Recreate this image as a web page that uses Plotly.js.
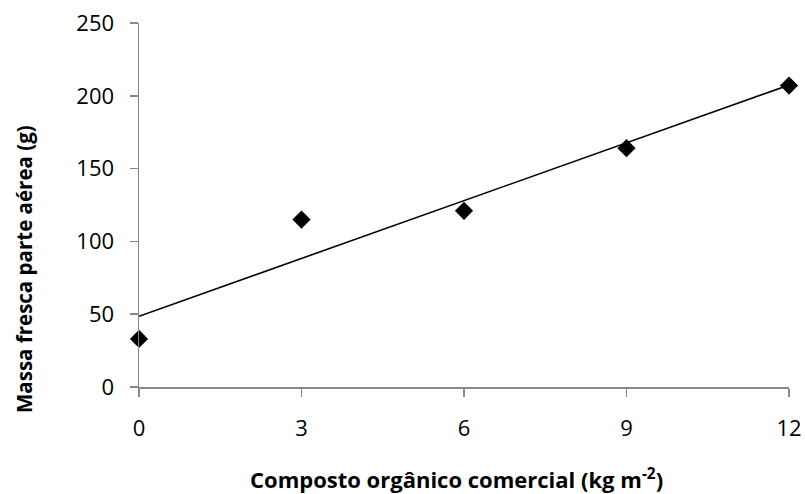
<!DOCTYPE html>
<html>
<head>
<meta charset="utf-8">
<script src="https://cdn.plot.ly/plotly-3.0.1.min.js"></script>
<style>html,body{margin:0;padding:0;background:#fff;}#chart{width:805px;height:494px;}</style>
</head>
<body>
<div id="chart"></div>
<script>
const doses = [0, 3, 6, 9, 12];
const massa = [33, 115, 121, 164, 207];
const trendX = [0, 12];
const trendY = [48.6, 207.4];
const xTicks = [0, 3, 6, 9, 12];
const yTicks = [0, 50, 100, 150, 200, 250];
const xTitle = 'Composto orgânico comercial (kg m<sup>-2</sup>)';
const yTitle = 'Massa fresca parte aérea (g)';

const traces = [
  {x: trendX, y: trendY, mode: 'lines', line: {color: '#000', width: 1.6}, hoverinfo: 'skip', showlegend: false, cliponaxis: false},
  {x: doses, y: massa, mode: 'markers', marker: {symbol: 'diamond', size: 14, color: '#000'}, showlegend: false, cliponaxis: false}
];

const fam = '"Open Sans", Lato, sans-serif';
const tickFont = {family: fam, size: 22, color: '#000'};
const layout = {
  width: 805, height: 494,
  margin: {l: 139, r: 16, t: 23, b: 107},
  paper_bgcolor: '#fff', plot_bgcolor: '#fff',
  showlegend: false,
  xaxis: {
    range: [0, 12], tickvals: xTicks, ticktext: xTicks.map(String),
    showgrid: false, zeroline: false, showline: true, linecolor: '#898989', linewidth: 1.5,
    ticks: 'outside', ticklen: 8, tickcolor: '#898989', tickwidth: 1.5,
    tickfont: tickFont, ticklabelstandoff: 13
  },
  yaxis: {
    range: [0, 250], tickvals: yTicks, ticktext: yTicks.map(String),
    showgrid: false, zeroline: false, showline: true, linecolor: '#898989', linewidth: 1.5,
    ticks: 'outside', ticklen: 8, tickcolor: '#898989', tickwidth: 1.5,
    tickfont: tickFont, ticklabelstandoff: 11
  },
  annotations: [
    {text: xTitle, xref: 'paper', yref: 'paper', x: 0.4877, y: -0.2527, xanchor: 'center', yanchor: 'middle', showarrow: false,
     font: {family: fam, size: 22, color: '#000', weight: 'bold'}},
    {text: yTitle, xref: 'paper', yref: 'paper', x: -0.1777, y: 0.3255, xanchor: 'center', yanchor: 'middle', textangle: -90, showarrow: false,
     font: {family: fam, size: 20.5, color: '#000', weight: 'bold'}}
  ]
};
Plotly.newPlot('chart', traces, layout, {displayModeBar: false, staticPlot: true});
</script>
</body>
</html>
